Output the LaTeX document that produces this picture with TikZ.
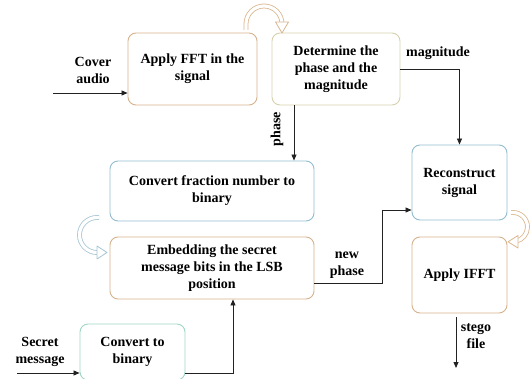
\documentclass[tikz,border=0pt]{standalone}
\usepackage{fontspec}
\setmainfont{Liberation Serif}
\usetikzlibrary{arrows.meta}

\definecolor{tanline}{HTML}{D6B28C}
\definecolor{beigeline}{HTML}{D5D1AD}
\definecolor{blueline}{HTML}{92BCD0}
\definecolor{mintline}{HTML}{9FD6C4}
\definecolor{tanarrow}{HTML}{D9B68E}
\definecolor{bluearrow}{HTML}{A6C6D4}
\definecolor{flowline}{HTML}{222222}

\tikzset{
  stepbox/.style={draw, rounded corners=8pt, line width=0.9pt, align=center,
    inner sep=2pt, font=\fontsize{14}{17}\selectfont\bfseries},
  lbl/.style={align=center, inner sep=0pt, font=\fontsize{14}{17}\selectfont\bfseries},
  flow/.style={draw=flowline, line width=0.8pt, -{Triangle[length=6pt,width=5pt]}},
  tube/.style={line width=0.8pt, double=white, double distance=3.2pt},
  hollowhead/.style={fill=white, line width=0.8pt, line join=round}
}

\begin{document}
\begin{tikzpicture}[x=1pt,y=-1pt]
  \useasboundingbox (0,0) rectangle (530,379);
  \clip (0,0) rectangle (530,379);

  % processing steps
  \node[stepbox, draw=tanline, minimum width=129pt, minimum height=72pt]
    (fft) at (192.5,69) {Apply FFT in the\\signal};
  \node[stepbox, draw=beigeline, minimum width=128pt, minimum height=72pt]
    (det) at (336,69) {Determine the\\phase and the\\magnitude};
  \node[stepbox, draw=blueline, minimum width=204pt, minimum height=60pt]
    (frac) at (212,191) {Convert fraction number to\\binary};
  \node[stepbox, draw=tanline, minimum width=204pt, minimum height=62pt]
    (emb) at (212,268) {Embedding the secret\\message bits in the LSB\\position};
  \node[stepbox, draw=mintline, minimum width=105pt, minimum height=56pt]
    (bin) at (132.5,352) {Convert to\\binary};
  \node[stepbox, draw=blueline, minimum width=95pt, minimum height=75pt]
    (rec) at (459.5,182.5) {Reconstruct\\signal};
  \node[stepbox, draw=tanline, minimum width=95pt, minimum height=76pt]
    (ifft) at (459.5,275) {Apply IFFT};

  % free ends and bends
  \coordinate (cin) at (53,93);
  \coordinate (sin) at (17,373);
  \coordinate (px) at (294,0);
  \coordinate (nx) at (382,0);
  \coordinate (bx) at (233,0);
  \coordinate (sx) at (456,0);
  \coordinate (sout) at (456,368);

  % connectors
  \draw[flow] (cin) -- (cin -| fft.west);
  \draw[flow] (det.east) -| (rec.north);
  \draw[flow] (det.south -| px) -- (frac.north -| px);
  \draw[flow] (emb.east |- 0,283) -| (nx |- 0,210) -- (rec.west |- 0,210);
  \draw[flow] (bin.east |- 0,373) -| (emb.south -| bx);
  \draw[flow] (sin) -- (sin -| bin.west);
  \draw[flow] (sx |- 0,317) -- (sout);

  % labels (rotation acts on the page, so 90 reads bottom to top)
  \node[lbl] (lcover) at (93,70) {Cover\\audio};
  \node[lbl] (lmag) at (438,53) {magnitude};
  \node[lbl, rotate=90] (lphase) at (277,129) {phase};
  \node[lbl] (lnew) at (347,265) {new\\phase};
  \node[lbl] (lsecret) at (40,352) {Secret\\message};
  \node[lbl] (lstego) at (476,336) {stego\\file};

  % hollow turn arrows
  \draw[tube, draw=tanarrow] (246,30) -- (246,24) arc[start angle=180, end angle=360, radius=18] -- (282,23);
  \draw[hollowhead, draw=tanarrow] (275.5,22) -- (288.5,22) -- (282,33) -- cycle;

  \draw[tube, draw=bluearrow] (99,217.5) -- (97,217.5) arc[start angle=-90, end angle=-270, radius=17.5] -- (98,252.5);
  \draw[hollowhead, draw=bluearrow] (97,246) -- (97,259) -- (107,252.5) -- cycle;

  \draw[tube, draw=tanarrow] (511,212.5) -- (513,212.5) arc[start angle=-90, end angle=80, radius=14.5];
  \draw[hollowhead, draw=tanarrow] (518,235.5) -- (518,248) -- (508,241.8) -- cycle;
\end{tikzpicture}
\end{document}
